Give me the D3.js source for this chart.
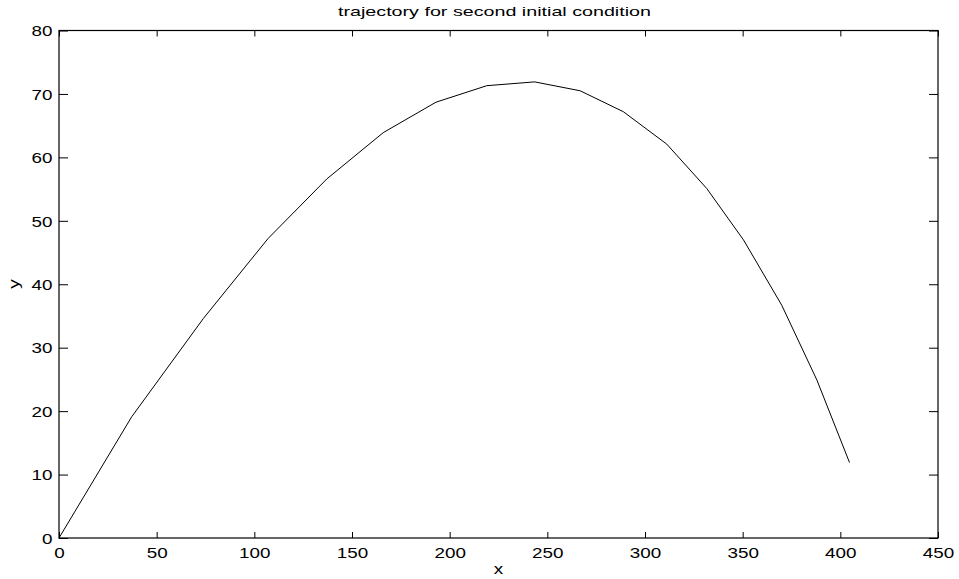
<!DOCTYPE html>
<html>
<head>
<meta charset="utf-8">
<script src="https://cdn.jsdelivr.net/npm/d3@7"></script>
<style>
  body { margin: 0; background: #fff; }
  text { font-family: "Liberation Sans", Arial, sans-serif; fill: #000; }
</style>
</head>
<body>
<div id="chart"></div>
<script>
// trajectory vertices
const xs = [0, 37.2, 73.9, 107, 137.1, 166, 193, 219, 243.5, 266.8, 288.9, 311.1, 331.6, 350.4, 370, 388, 404.7];
const ys = [0, 19.1, 34.6, 47.2, 56.6, 63.9, 68.7, 71.3, 71.9, 70.5, 67.2, 62.1, 55.1, 47.0, 36.7, 24.9, 11.9];
const xTicks = [0, 50, 100, 150, 200, 250, 300, 350, 400, 450];
const yTicks = [0, 10, 20, 30, 40, 50, 60, 70, 80];

const W = 959, H = 579;
const margin = { top: 30.5, right: 21, bottom: 41, left: 59 };
const width = W - margin.left - margin.right;
const height = H - margin.top - margin.bottom;
const stretch = 1.3;

const svg = d3.select('#chart')
    .append('svg')
    .attr('width', W)
    .attr('height', H);

const g = svg.append('g')
    .attr('transform', `translate(${margin.left}, ${margin.top})`);

const x = d3.scaleLinear().domain([0, 450]).range([0, width]);
const y = d3.scaleLinear().domain([0, 80]).range([height, 0]);

// the curve
const line = d3.line()
    .x((d, i) => x(xs[i]))
    .y((d, i) => y(ys[i]));

g.append('path')
    .datum(xs)
    .attr('d', line)
    .attr('fill', 'none')
    .attr('stroke', '#000')
    .attr('stroke-width', 1);

// axes, ticks pointing inward on all four sides
function styleAxis(sel) {
    sel.select('.domain').remove();
    sel.selectAll('line').attr('stroke', '#000').attr('stroke-width', 1);
}

const bottom = g.append('g')
    .attr('transform', `translate(0, ${height})`)
    .call(d3.axisBottom(x).tickValues(xTicks).tickSizeInner(-6).tickSizeOuter(0).tickPadding(0))
    .call(styleAxis);
bottom.selectAll('text')
    .attr('y', 0)
    .attr('dy', '1.35em')
    .attr('transform', `scale(${stretch},1)`)
    .attr('font-size', '14.5px');

const left = g.append('g')
    .call(d3.axisLeft(y).tickValues(yTicks).tickSizeInner(-9).tickSizeOuter(0).tickPadding(0))
    .call(styleAxis);
left.selectAll('text')
    .attr('x', -6.5 / stretch)
    .attr('dy', '0.36em')
    .attr('transform', `scale(${stretch},1)`)
    .attr('font-size', '14.5px');

g.append('g')
    .call(d3.axisTop(x).tickValues(xTicks).tickSizeInner(-6).tickSizeOuter(0).tickFormat(''))
    .call(styleAxis);

g.append('g')
    .attr('transform', `translate(${width}, 0)`)
    .call(d3.axisRight(y).tickValues(yTicks).tickSizeInner(-9).tickSizeOuter(0).tickFormat(''))
    .call(styleAxis);

// frame
g.append('rect')
    .attr('width', width)
    .attr('height', height)
    .attr('fill', 'none')
    .attr('stroke', '#000')
    .attr('stroke-width', 1.2);

// title and labels
svg.append('text')
    .attr('x', margin.left + width / 2 - 4)
    .attr('y', 16)
    .attr('text-anchor', 'middle')
    .attr('font-size', '13px')
    .attr('textLength', 313)
    .attr('lengthAdjust', 'spacingAndGlyphs')
    .text('trajectory for second initial condition');

svg.append('text')
    .attr('transform', `translate(${margin.left + width / 2}, 574) scale(${stretch},1)`)
    .attr('text-anchor', 'middle')
    .attr('font-size', '14.5px')
    .text('x');

svg.append('text')
    .attr('transform', `translate(19, 284) rotate(-90) scale(${stretch},1)`)
    .attr('text-anchor', 'middle')
    .attr('font-size', '14.5px')
    .text('y');
</script>
</body>
</html>
